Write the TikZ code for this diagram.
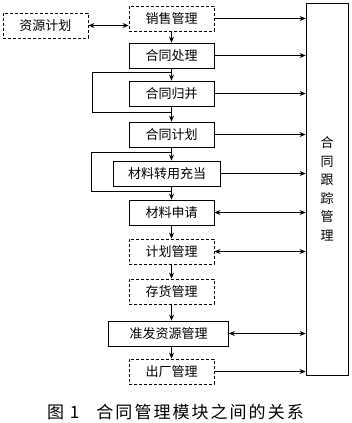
\documentclass[tikz,border=0pt]{standalone}
\usepackage{fontspec}
\setmainfont{Noto Sans CJK SC}
\newfontfamily\capfont[LetterSpace=12]{Noto Sans CJK SC}
\usetikzlibrary{arrows.meta}

\begin{document}
\begin{tikzpicture}[x=1pt, y=1pt, node distance=39pt,
  module/.style={rectangle, draw=black, line width=0.8pt, minimum width=85pt, minimum height=25pt, inner sep=0pt, font=\fontsize{13}{15}\selectfont},
  extmodule/.style={module, dash pattern=on 3pt off 2pt},
  arrow/.style={line width=0.7pt, -{Stealth[length=6pt, width=5pt]}},
  twoway/.style={arrow, {Stealth[length=6pt, width=5pt]}-{Stealth[length=6pt, width=5pt]}},
  loopline/.style={line width=0.7pt}
]
\useasboundingbox (0,0) rectangle (352,-423);

\node (sales) [extmodule] at (171.5,-18.5) {销售管理};
\node (res) [extmodule] at (45.5,-25.5) {资源计划};
\node (proc) [module, below of=sales, yshift=2pt] {合同处理};
\node (merge) [module, below of=proc, yshift=1pt] {合同归并};
\node (plan) [module, below of=merge, yshift=-2pt] {合同计划};
\node (subst) [module, minimum width=107pt, below of=plan, xshift=-4.5pt] {材料转用充当};
\node (matreq) [module, below of=subst, xshift=4.5pt] {材料申请};
\node (pm) [extmodule, below of=matreq] {计划管理};
\node (stock) [extmodule, below of=pm, yshift=-1pt] {存货管理};
\node (release) [module, minimum width=120pt, below of=stock, yshift=-3pt, xshift=-3pt] {准发资源管理};
\node (out) [extmodule, below of=release, yshift=1pt, xshift=3pt] {出厂管理};
\node (track) [module, minimum width=42pt, minimum height=372pt, align=center, font=\fontsize{13}{18.5}\selectfont] at (327,-189) {合\\同\\跟\\踪\\管\\理};
\node (caption) [font=\capfont\fontsize{17}{20}\selectfont] at (175.5,-412) {图 1\hspace{1em}合同管理模块之间的关系};

\draw [twoway] (res.east) -- (res.east -| sales.west);

\draw [arrow] (sales) -- (proc);
\draw [arrow] (proc) -- (merge);
\draw [arrow] (merge) -- (plan);
\draw [arrow] (plan.south) -- (plan.south |- subst.north);
\draw [arrow] (plan.south |- subst.south) -- (matreq.north);
\draw [arrow] (matreq) -- (pm);
\draw [arrow] (pm) -- (stock);
\draw [arrow] (stock.south) -- (stock.south |- release.north);
\draw [arrow] (stock.south |- release.south) -- (out.north);

% bypass lines
\coordinate (split1) at ([yshift=-4pt]proc.south);
\coordinate (join1) at ([yshift=-6pt]merge.south);
\draw [loopline] (split1) -- ++(-79.5,0) |- (join1);
\coordinate (split2) at ([yshift=-5pt]plan.south);
\coordinate (join2) at ([yshift=-5pt]plan.south |- subst.south);
\draw [loopline] (split2) -- ++(-80.5,0) |- (join2);

% links to tracking
\draw [arrow] (sales.east) -- (sales.east -| track.west);
\draw [arrow] (proc.east) -- (proc.east -| track.west);
\draw [arrow] (merge.east) -- (merge.east -| track.west);
\draw [arrow] (plan.east) -- (plan.east -| track.west);
\draw [arrow] (subst.east) -- (subst.east -| track.west);
\draw [twoway] (matreq.east) -- (matreq.east -| track.west);
\draw [twoway] (pm.east) -- (pm.east -| track.west);
\draw [twoway] (release.east) -- (release.east -| track.west);
\draw [arrow] (out.east) -- (out.east -| track.west);

\end{tikzpicture}
\end{document}
